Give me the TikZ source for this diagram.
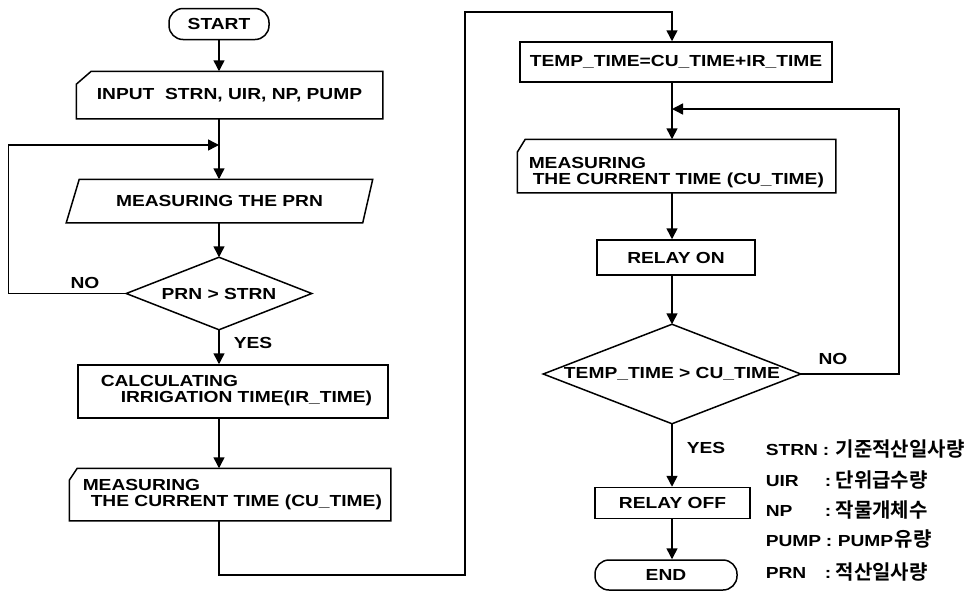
\documentclass[tikz,border=0pt]{standalone}
\usepackage{fontspec}
\setmainfont{Liberation Sans}[FakeStretch=1.2]
\newfontfamily\kr{Noto Sans CJK KR}[BoldFont={Noto Sans CJK KR Bold}]
\usetikzlibrary{arrows.meta}
\begin{document}
\begin{tikzpicture}[x=1pt,y=-1pt,
  line width=1.5pt,
  font=\fontsize{16}{16}\selectfont\bfseries,
  arr/.style={-{Triangle[width=11pt,length=11pt]}},
  boxd/.style={draw,rectangle,inner sep=0pt},
  rbox/.style={draw,rectangle,rounded corners=14pt,inner sep=0pt},
  frame/.style={rectangle,inner sep=0pt},
  lbl/.style={inner sep=0pt},
  mtxt/.style={anchor=west,align=left,inner sep=0pt,font=\fontsize{16}{16}\selectfont\bfseries},
  leg/.style={anchor=base west,inner sep=0pt,font=\fontsize{16}{16}\selectfont\bfseries},
  kor/.style={anchor=base west,inner sep=0pt,font=\kr\fontsize{20}{20}\selectfont\bfseries}]
\useasboundingbox[fill=white] (0,0) rectangle (969,595);

\coordinate (cL) at (219,0);
\coordinate (cR) at (672,0);

% ---------- left column ----------
\node[rbox, minimum width=100pt, minimum height=31pt] (start) at (219,24) {START};

\node[frame, minimum width=305pt, minimum height=46pt] (input) at (229.5,95) {INPUT\ \ STRN, UIR, NP, PUMP};
\draw ([yshift=-13pt]input.north west) -- ([xshift=15pt]input.north west) -- (input.north east) -- (input.south east) -- (input.south west) -- cycle;

\node[frame, minimum width=305pt, minimum height=42pt] (meas1) at (219.5,201) {MEASURING THE PRN};
\draw ([xshift=13pt]meas1.north west) -- (meas1.north east) -- ([xshift=-10pt]meas1.south east) -- (meas1.south west) -- cycle;

\node[frame, minimum width=184pt, minimum height=71pt] (dec1) at (219,293.5) {PRN > STRN};
\draw (dec1.north) -- (dec1.east) -- (dec1.south) -- (dec1.west) -- cycle;

\node[boxd, minimum width=310pt, minimum height=53pt] (calc) at (233,391.5) {};
\node[mtxt] (calctxt) at (100,391) {CALCULATING\\\hspace*{20pt}IRRIGATION TIME(IR\_TIME)};

\node[frame, minimum width=320pt, minimum height=51pt] (meas2) at (230,494.5) {};
\draw ([yshift=-12pt]meas2.north west) -- ([xshift=8pt]meas2.north west) -- (meas2.north east) -- (meas2.south east) -- (meas2.south west) -- cycle;
\node[mtxt] (meas2txt) at (82,495) {MEASURING\\\hspace*{8pt}THE CURRENT TIME (CU\_TIME)};

% ---------- right column ----------
\node[boxd, minimum width=312pt, minimum height=40pt] (temp) at (676,62) {TEMP\_TIME=CU\_TIME+IR\_TIME};

\node[frame, minimum width=317pt, minimum height=52pt] (meas3) at (676.5,166) {};
\draw ([yshift=-13pt]meas3.north west) -- ([xshift=8pt]meas3.north west) -- (meas3.north east) -- (meas3.south east) -- (meas3.south west) -- cycle;
\node[mtxt] (meas3txt) at (528,173) {MEASURING\\\hspace*{4pt}THE CURRENT TIME (CU\_TIME)};

\node[boxd, minimum width=158pt, minimum height=35pt] (relayon) at (676,257.5) {RELAY ON};

\node[frame, minimum width=256pt, minimum height=98pt] (dec2) at (672,374) {TEMP\_TIME > CU\_TIME};
\draw (dec2.north) -- (dec2.east) -- (dec2.south) -- (dec2.west) -- cycle;

\node[boxd, minimum width=155pt, minimum height=31pt] (relayoff) at (672.5,503) {RELAY OFF};
\node[rbox, minimum width=142pt, minimum height=30pt] (end) at (666,575) {END};

% ---------- labels ----------
\node[lbl] (no1) at (85,283) {NO};
\node[lbl] (yes1) at (253,343) {YES};
\node[lbl] (no2) at (833,359) {NO};
\node[lbl] (yes2) at (706,448) {YES};

% ---------- connectors ----------
\draw[arr] (start.south) -- (input.north -| start.south);
\coordinate (j1) at (219,145);
\draw (input.south -| cL) -- (j1);
\draw[arr] (j1) -- (meas1.north -| cL);
\draw[arr] (dec1.west) -- ++(-118,0) |- (j1);
\draw[arr] (meas1.south -| cL) -- (dec1.north);
\draw[arr] (dec1.south) -- (calc.north -| dec1.south);
\draw[arr] (calc.south -| cL) -- (meas2.north -| cL);
\coordinate (c1) at (465,575);
\coordinate (c2) at (465,12);
\draw[arr] (meas2.south -| cL) |- (c1) -- (c2) -| (temp.north -| cR);
\coordinate (j2) at (672,109);
\draw (temp.south -| cR) -- (j2);
\draw[arr] (j2) -- (meas3.north -| cR);
\draw[arr] (dec2.east) -- ++(98,0) |- (j2);
\draw[arr] (meas3.south -| cR) -- (relayon.north -| cR);
\draw[arr] (relayon.south -| cR) -- (dec2.north);
\draw[arr] (dec2.south) -- (relayoff.north -| cR);
\draw[arr] (relayoff.south -| cR) -- (end.north -| cR);

% ---------- legend ----------
\node[leg] (k1) at (765,455) {STRN};
\node[leg] (s1) at (822,455) {:};
\node[kor] (v1) at (835,456) {기준적산일사량};
\node[leg] (k2) at (765,486) {UIR};
\node[leg] (s2) at (824,486) {:};
\node[kor] (v2) at (835,487) {단위급수량};
\node[leg] (k3) at (765,516) {NP};
\node[leg] (s3) at (824,516) {:};
\node[kor] (v3) at (835,517) {작물개체수};
\node[leg] (k4) at (765,546) {PUMP};
\node[leg] (s4) at (825,546) {:};
\node[leg] (v4a) at (837,546) {PUMP};
\node[kor] (v4b) at (v4a.base east) {유량};
\node[leg] (k5) at (765,578) {PRN};
\node[leg] (s5) at (824,578) {:};
\node[kor] (v5) at (835,579) {적산일사량};
\end{tikzpicture}
\end{document}
